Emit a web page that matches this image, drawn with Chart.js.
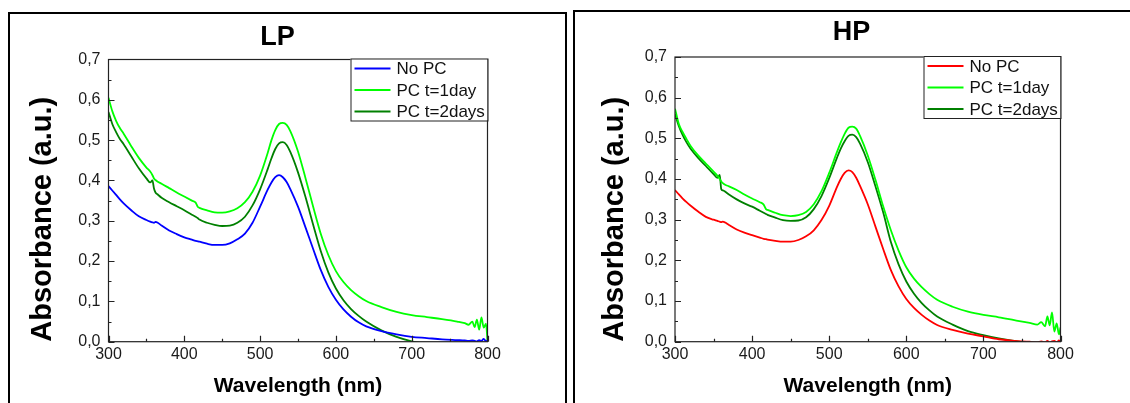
<!DOCTYPE html>
<html>
<head>
<meta charset="utf-8">
<script src="https://cdn.jsdelivr.net/npm/chart.js@4.4.0/dist/chart.umd.min.js"></script>
<style>
body { margin: 0; background: #fff; width: 1130px; height: 403px; overflow: hidden; position: relative; }
.panel { position: absolute; top: 0; width: 565px; height: 403px; }
.frame { position: absolute; border: 2px solid #000; border-bottom: none; pointer-events: none; }
</style>
</head>
<body>
<div class="panel" style="left:0px"><canvas id="lpChart" width="565" height="403"></canvas></div>
<div class="panel" style="left:565px"><canvas id="hpChart" width="565" height="403"></canvas></div>
<div class="frame" style="left:8px;top:12px;width:555px;height:400px"></div>
<div class="frame" style="left:573px;top:10px;width:600px;height:400px"></div>
<script>
// wavelength (nm), shared by every curve
var wavelength = [300,305,310,315,320,330,340,350,355,358,360,362,365,370,380,390,400,410,415,418,420,430,440,450,460,470,480,490,500,510,515,520,525,530,535,540,550,560,570,580,590,600,610,620,630,640,660,680,700,720,740,760,770,775,780,783,786,789,792,795,798,800]

var seriesNames = ['No PC', 'PC t=1day', 'PC t=2days']

// LP panel
var lpNoPC = [.386,.375,.364,.353,.343,.326,.311,.302,.298,.296,.295,.297,.295,.288,.276,.267,.259,.253,.250,.249,.248,.243,.240,.240,.244,.254,.268,.295,.335,.377,.395,.408,.413,.408,.396,.378,.335,.283,.230,.178,.136,.104,.080,.062,.048,.038,.026,.018,.012,.009,.006,.004,.003,.002,.003,.002,.001,.004,.002,.007,.001,.003]
var lpDay1 = [.605,.572,.548,.530,.516,.485,.456,.432,.422,.413,.405,.401,.397,.392,.381,.370,.360,.350,.345,.334,.332,.326,.321,.320,.323,.331,.346,.372,.412,.468,.500,.525,.540,.543,.538,.522,.472,.405,.335,.268,.215,.175,.148,.128,.113,.101,.086,.074,.066,.061,.056,.050,.046,.042,.050,.036,.055,.030,.060,.035,.045,.002]
var lpDay2 = [.570,.540,.520,.503,.490,.460,.430,.405,.395,.400,.380,.370,.365,.357,.346,.336,.326,.315,.310,.306,.303,.295,.290,.287,.288,.295,.310,.338,.378,.428,.455,.478,.492,.495,.488,.470,.420,.358,.290,.225,.172,.132,.103,.081,.064,.050,.028,.012,.001,-.006,-.012,-.015,-.016,-.017,-.018,-.018,-.019,-.019,-.020,-.020,-.020,-.020]

// HP panel
var hpNoPC = [.373,.362,.352,.343,.335,.320,.307,.300,.297,.295,.294,.295,.293,.287,.276,.268,.262,.256,.253,.252,.251,.248,.246,.246,.250,.259,.274,.299,.334,.380,.400,.415,.421,.417,.403,.383,.338,.283,.228,.176,.136,.105,.083,.066,.052,.041,.029,.020,.013,.006,.002,.000,-.002,.001,-.002,.002,-.003,.001,.002,-.002,.003,-.005]
var hpDay1 = [.573,.535,.515,.498,.482,.458,.438,.418,.408,.400,.394,.390,.386,.382,.373,.362,.352,.343,.337,.326,.324,.317,.311,.309,.311,.319,.338,.370,.415,.466,.490,.511,.526,.529,.524,.506,.458,.398,.333,.274,.224,.183,.155,.134,.117,.103,.086,.074,.066,.060,.053,.046,.042,.048,.038,.062,.040,.072,.025,.045,.018,.035]
var hpDay2 = [.560,.530,.508,.490,.475,.452,.432,.412,.403,.410,.375,.372,.369,.362,.350,.340,.332,.322,.317,.314,.312,.305,.299,.297,.298,.306,.326,.358,.402,.452,.475,.493,.506,.509,.503,.487,.442,.382,.318,.245,.190,.148,.118,.095,.077,.062,.042,.026,.016,.008,.002,-.004,-.006,-.006,-.007,-.007,-.008,-.008,-.008,-.008,-.008,-.008]

var FONT = "'Liberation Sans', Arial, sans-serif"

// frame, inward ticks, legend box and panel title
const panelDecor = {
    id: 'panelDecor',
    afterDatasetsDraw(chart, args, opts) {
        const ctx = chart.ctx
        const a = chart.chartArea
        const xs = chart.scales.x, ys = chart.scales.y
        ctx.save()
        ctx.strokeStyle = '#222'
        ctx.lineWidth = 1.2
        ctx.strokeRect(a.left, a.top, a.right - a.left, a.bottom - a.top)

        // ticks pointing into the plot, minor ones halfway
        ctx.beginPath()
        for (let v = xs.min; v <= xs.max + 0.001; v += 50) {
            const px = Math.round(xs.getPixelForValue(v)) + 0.5
            const len = (v % 100 === 0) ? 6 : 3
            ctx.moveTo(px, a.bottom); ctx.lineTo(px, a.bottom - len)
        }
        for (let i = 0; i <= 14; i++) {
            const py = Math.round(ys.getPixelForValue(i * 0.05)) + 0.5
            const len = (i % 2 === 0) ? 6 : 3
            ctx.moveTo(a.left, py); ctx.lineTo(a.left + len, py)
        }
        ctx.stroke()

        // legend
        const w = 137, h = 62
        const lx = a.right - w, ly = a.top - 1
        ctx.fillStyle = '#fff'
        ctx.fillRect(lx, ly, w, h)
        ctx.strokeStyle = '#222'
        ctx.lineWidth = 1
        ctx.strokeRect(lx + 0.5, ly + 0.5, w, h)
        ctx.font = '17px ' + FONT
        ctx.textBaseline = 'middle'
        chart.data.datasets.forEach((ds, i) => {
            const ry = ly + 10 + i * 21.5
            ctx.strokeStyle = ds.borderColor
            ctx.lineWidth = 2
            ctx.beginPath()
            ctx.moveTo(lx + 4, ry); ctx.lineTo(lx + 40, ry)
            ctx.stroke()
            ctx.fillStyle = '#111'
            ctx.fillText(ds.label, lx + 46, ry + 1)
        })

        // panel title
        ctx.font = 'bold 27px ' + FONT
        ctx.textAlign = 'center'
        ctx.fillStyle = '#000'
        ctx.fillText(opts.text, opts.x, opts.y)
        ctx.restore()
    }
}

function createSpectrumChart(id, title, titlePos, curves, colors, area, yTitlePad) {
    const ctx = document.getElementById(id).getContext('2d')
    const datasets = curves.map((vals, i) => ({
        label: seriesNames[i],
        data: vals.map((v, k) => ({ x: wavelength[k], y: v })),
        borderColor: colors[i],
        borderWidth: 1.8,
        pointRadius: 0,
        cubicInterpolationMode: 'monotone'
    }))

    return new Chart(ctx, {
        type: 'line',
        data: { datasets: datasets },
        options: {
            responsive: false,
            animation: false,
            devicePixelRatio: 1,
            layout: { padding: { left: 0, top: area.top, right: 565 - area.right, bottom: 0 } },
            plugins: {
                legend: { display: false },
                tooltip: { enabled: false },
                panelDecor: { text: title, x: titlePos[0], y: titlePos[1] }
            },
            scales: {
                x: {
                    type: 'linear',
                    min: 300, max: 800,
                    grid: { display: false, drawTicks: false },
                    border: { display: false },
                    ticks: { stepSize: 100, padding: 3, color: '#1a1a1a', font: { family: FONT, size: 16 } },
                    title: { display: true, text: 'Wavelength (nm)', color: '#000', padding: { top: 0, bottom: 4 }, font: { family: FONT, size: 21, weight: 'bold' } },
                    afterFit: (s) => { s.height = 403 - area.bottom }
                },
                y: {
                    min: 0, max: 0.7,
                    grid: { display: false, drawTicks: false },
                    border: { display: false },
                    ticks: {
                        stepSize: 0.1, padding: 8, color: '#1a1a1a',
                        font: { family: FONT, size: 16 },
                        callback: (v) => v.toFixed(1).replace('.', ',')
                    },
                    title: { display: true, text: 'Absorbance (a.u.)', align: 'start', color: '#000', padding: { top: yTitlePad, bottom: 0 }, font: { family: FONT, size: 29, weight: 'bold' } },
                    afterFit: (s) => { s.width = area.left }
                }
            }
        },
        plugins: [panelDecor]
    })
}

createSpectrumChart('lpChart', 'LP', [277.5, 38], [lpNoPC, lpDay1, lpDay2],
    ['#0000ff', '#00ff00', '#008000'], { left: 108.5, top: 59.5, right: 487.5, bottom: 341.7 }, 25.6)
createSpectrumChart('hpChart', 'HP', [286.5, 33], [hpNoPC, hpDay1, hpDay2],
    ['#ff0000', '#00ff00', '#008000'], { left: 110, top: 57, right: 495.5, bottom: 341.7 }, 32.6)
</script>
</body>
</html>
